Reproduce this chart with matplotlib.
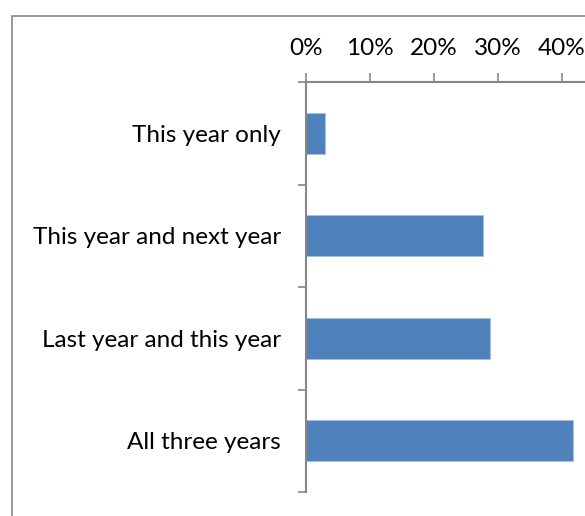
import matplotlib.pyplot as plt
from matplotlib.patches import Rectangle
from matplotlib.ticker import PercentFormatter, FixedLocator
import numpy as np

# ---------------------------------------------------------
# Data
# ---------------------------------------------------------
categories = ["This year only", "This year and next year",
              "Last year and this year", "All three years"]
shares = [0.029, 0.277, 0.288, 0.417]
x_ticks = [0.0, 0.1, 0.2, 0.3, 0.4]

bar_color = "#4F81BD"
axis_gray = "#868686"
plt.rcParams["font.family"] = ["Lato", "DejaVu Sans"]

W, H = 585, 516
fig = plt.figure(figsize=(W / 100, H / 100), dpi=100)

# axes placed in pixel terms: 0% at x=306, top axis at y=82, bottom at y=492
left, top, bottom = 306, 82, 492
ax = fig.add_axes([left / W, 1 - bottom / H, 1 - left / W, (bottom - top) / H])

y = np.arange(len(categories))
ax.barh(y, shares, height=0.4, color=bar_color, edgecolor="#A7C0DE", linewidth=0.6)

# 64 px per 10%
ax.set_xlim(0, (W - left) / 640)
ax.set_ylim(len(categories) - 0.5, -0.5)

ax.xaxis.tick_top()
ax.xaxis.set_major_locator(FixedLocator(x_ticks))
ax.xaxis.set_major_formatter(PercentFormatter(1.0, decimals=0))
ax.tick_params(axis="x", direction="out", length=6.5, width=1.2, color=axis_gray,
               labelsize=17.5, pad=10)

ax.set_yticks(y)
ax.set_yticklabels(categories)
ax.yaxis.set_minor_locator(FixedLocator(np.arange(-0.5, len(categories), 1.0)))
ax.tick_params(axis="y", which="major", length=0, labelsize=17.5, pad=18)
ax.tick_params(axis="y", which="minor", direction="out", length=6, width=1.2, color=axis_gray)

for side in ["right", "bottom"]:
    ax.spines[side].set_visible(False)
for side in ["left", "top"]:
    ax.spines[side].set_color(axis_gray)
    ax.spines[side].set_linewidth(1.5)

# outer chart frame (cut off at right and bottom)
fig.patches.append(Rectangle((12 / W, -0.2), 1.2, 1.2 - 16 / H, transform=fig.transFigure,
                             fill=False, edgecolor=axis_gray, linewidth=1.2))

fig.savefig("out.png", dpi=100)
